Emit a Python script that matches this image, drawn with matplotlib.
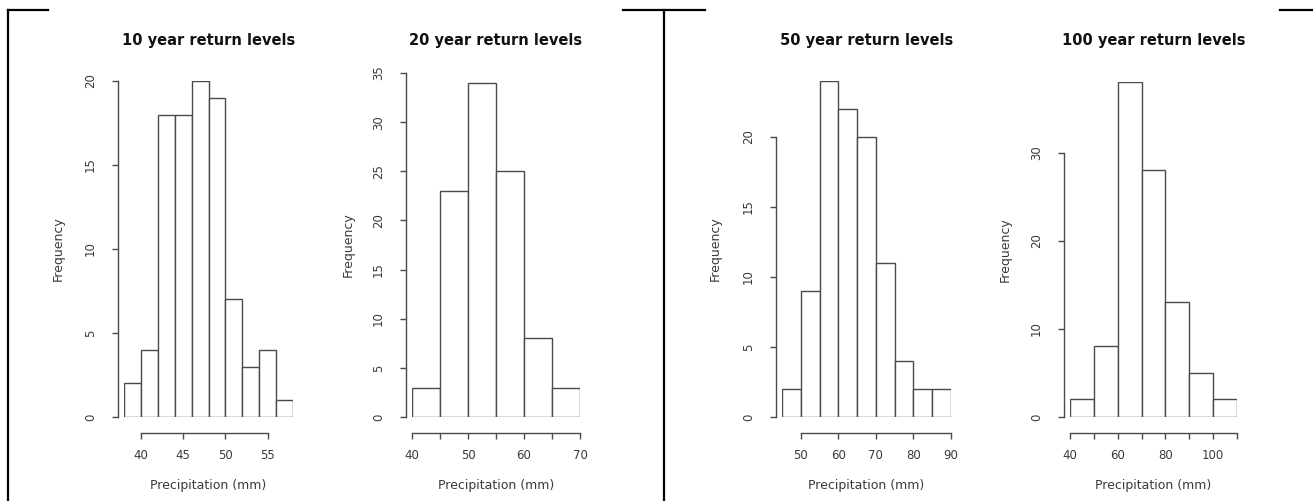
import numpy as np
import matplotlib.pyplot as plt
from matplotlib import transforms
from matplotlib.lines import Line2D

# histogram data (bin edges + counts)
titles = ["10 year return levels", "20 year return levels",
          "50 year return levels", "100 year return levels"]

edges_10 = [38, 40, 42, 44, 46, 48, 50, 52, 54, 56, 58]
counts_10 = [2, 4, 18, 18, 20, 19, 7, 3, 4, 1]

edges_20 = [40, 45, 50, 55, 60, 65, 70]
counts_20 = [3, 23, 34, 25, 8, 3]

edges_50 = [45, 50, 55, 60, 65, 70, 75, 80, 85, 90]
counts_50 = [2, 9, 24, 22, 20, 11, 4, 2, 2]

edges_100 = [40, 50, 60, 70, 80, 90, 100, 110]
counts_100 = [2, 8, 38, 28, 13, 5, 2]

xticks_10 = [40, 45, 50, 55]
xlabels_10 = ["40", "45", "50", "55"]
xticks_20 = [40, 45, 50, 55, 60, 65, 70]
xlabels_20 = ["40", "", "50", "", "60", "", "70"]
xticks_50 = [50, 60, 70, 80, 90]
xlabels_50 = ["50", "60", "70", "80", "90"]
xticks_100 = [40, 50, 60, 70, 80, 90, 100, 110]
xlabels_100 = ["40", "", "60", "", "80", "", "100", ""]

yticks_10 = [0, 5, 10, 15, 20]
yticks_20 = [0, 5, 10, 15, 20, 25, 30, 35]
yticks_50 = [0, 5, 10, 15, 20]
yticks_100 = [0, 10, 20, 30]

ylim_tops = [20, 35, 24, 38]

W, H = 1313, 501
# panel boxes in pixels: (left, right, top), bottom is common
boxes = [(124, 293, 81), (412, 580, 73), (782, 951, 81), (1070, 1237, 82)]
bottom_px = 417

fig = plt.figure(figsize=(W / 100, H / 100), dpi=100)
fig.patch.set_facecolor("white")

LC = "#4a4a4a"
TC = "#3a3a3a"

panels = [
    (edges_10, counts_10, xticks_10, xlabels_10, yticks_10),
    (edges_20, counts_20, xticks_20, xlabels_20, yticks_20),
    (edges_50, counts_50, xticks_50, xlabels_50, yticks_50),
    (edges_100, counts_100, xticks_100, xlabels_100, yticks_100),
]

for i, (edges, counts, xt, xl, yt) in enumerate(panels):
    l, r, t = boxes[i]
    ax = fig.add_axes([l / W, 1 - bottom_px / H, (r - l) / W, (bottom_px - t) / H])
    e = np.array(edges, dtype=float)
    ax.bar(e[:-1], counts, width=np.diff(e), align="edge",
           facecolor="white", edgecolor=LC, linewidth=1.0)
    ax.set_xlim(e[0], e[-1])
    ax.set_ylim(0, ylim_tops[i])

    for s in ["top", "right"]:
        ax.spines[s].set_visible(False)
    ax.spines["left"].set_position(("outward", 4.5))
    ax.spines["bottom"].set_position(("outward", 11.5))
    ax.spines["left"].set_bounds(yt[0], yt[-1])
    ax.spines["bottom"].set_bounds(xt[0], xt[-1])
    for s in ["left", "bottom"]:
        ax.spines[s].set_color(LC)
        ax.spines[s].set_linewidth(1.0)

    ax.set_xticks(xt)
    ax.set_xticklabels(xl)
    ax.set_yticks(yt)
    ax.set_yticklabels([str(v) for v in yt], rotation=90, va="center")
    ax.tick_params(axis="both", direction="out", length=4, width=1.0,
                   colors=LC, labelcolor=TC, labelsize=8.5)
    ax.tick_params(axis="x", pad=7.5)
    ax.tick_params(axis="y", pad=11)

    tr = transforms.blended_transform_factory(ax.transAxes, fig.transFigure)
    ax.text(0.5, 1 - 41 / H, titles[i], transform=tr, ha="center", va="center",
            fontsize=10.5, fontweight="bold", color="#111111")
    ax.text(0.5, 1 - 485 / H, "Precipitation (mm)", transform=tr,
            ha="center", va="center", fontsize=9, color=TC)
    ytr = transforms.blended_transform_factory(fig.transFigure, ax.transAxes)
    ylab_x = [58, 348, 715, 1005][i]
    ax.text(ylab_x / W, 0.5, "Frequency", transform=ytr, rotation=90,
            ha="center", va="center", fontsize=9, color=TC)

# frame corner lines around the two original images
def seg(x0, y0, x1, y1):
    fig.add_artist(Line2D([x0 / W, x1 / W], [1 - y0 / H, 1 - y1 / H],
                          transform=fig.transFigure, color="black", linewidth=1.6))

seg(8, 10, 8, H)
seg(8, 10, 48, 10)
seg(664, 10, 664, H)
seg(623, 10, 705, 10)
seg(1280, 10, W, 10)

fig.savefig("out.png", dpi=100, facecolor="white")
